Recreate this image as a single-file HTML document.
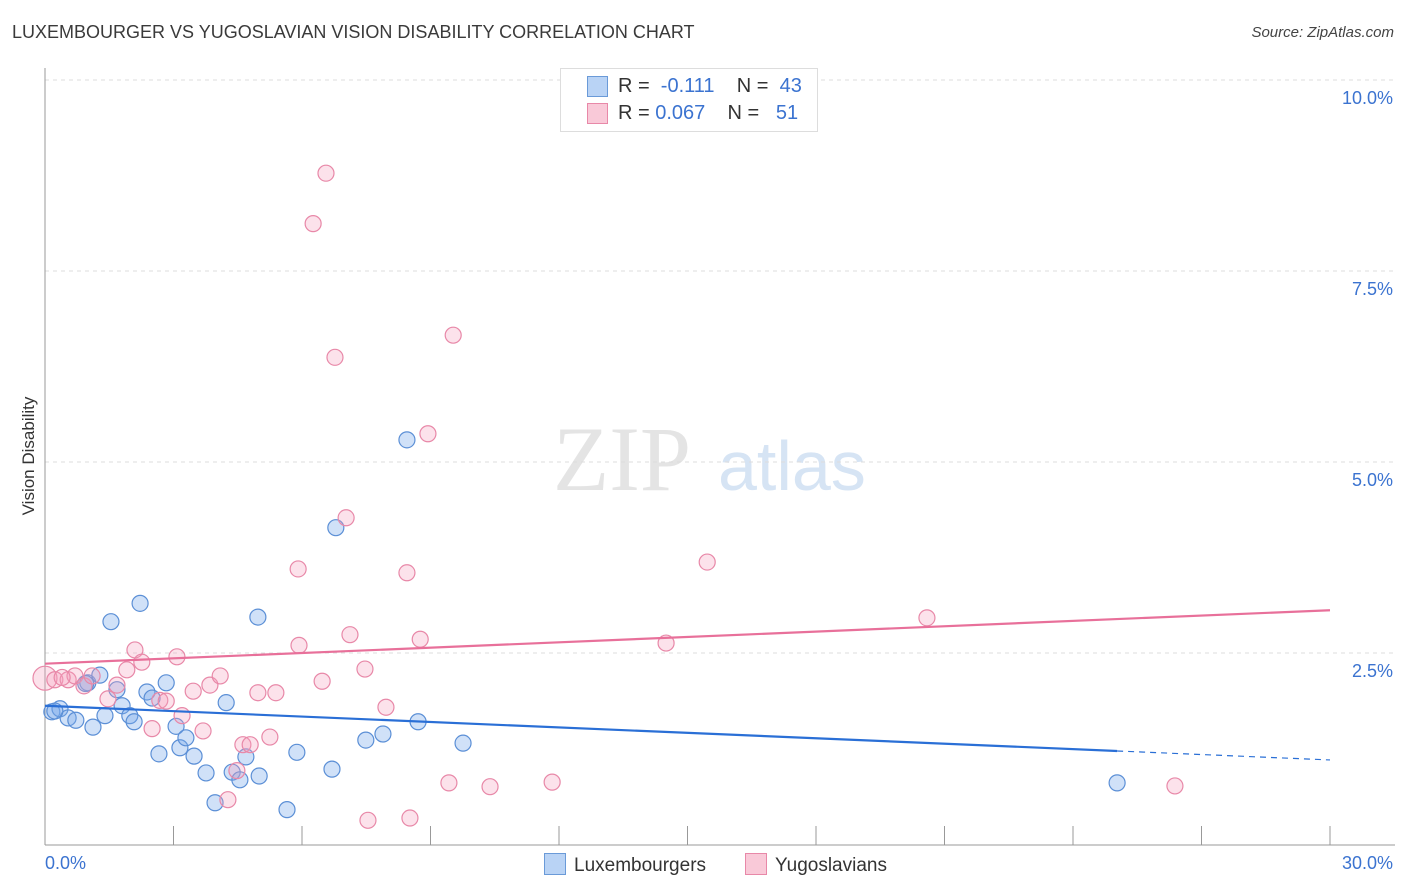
<!DOCTYPE html>
<html><head><meta charset="utf-8">
<style>
body{margin:0;background:#fff;font-family:"Liberation Sans",sans-serif;}
#wrap{position:relative;width:1406px;height:892px;overflow:hidden;}
.t{position:absolute;white-space:nowrap;}
</style></head>
<body>
<div id="wrap">
<div class="t" style="left:12px;top:22px;font-size:18px;color:#3a3a3a;">LUXEMBOURGER VS YUGOSLAVIAN VISION DISABILITY CORRELATION CHART</div>
<div class="t" style="right:12px;top:24px;font-size:15px;color:#444;font-style:italic;">Source: ZipAtlas.com</div>
<svg id="plot" width="1406" height="892" style="position:absolute;left:0;top:0"></svg>
</div>
<script>
const xTicksPct=[0,3,6,9,12,15,18,21,24,27,30];
const yTickVals=[2.5,5,7.5,10];
const yTickLabels=["2.5%","5.0%","7.5%","10.0%"];
const luxX=[0.16,0.35,0.54,0.72,1.12,1.00,1.28,1.54,1.40,1.68,1.80,1.98,2.08,2.22,2.38,2.50,2.66,2.83,3.06,3.15,3.29,3.48,3.76,3.97,4.23,4.37,4.55,4.69,5.00,4.97,5.65,5.88,6.70,6.79,7.49,7.89,8.45,8.71,9.76,25.03,0.23,0.95];
const luxY=[1.73,1.77,1.65,1.62,1.53,2.11,2.21,2.91,1.68,2.02,1.81,1.68,1.60,3.15,1.99,1.91,1.18,2.11,1.54,1.26,1.39,1.15,0.93,0.54,1.85,0.94,0.84,1.14,0.89,2.97,0.45,1.20,0.98,4.14,1.36,1.44,5.29,1.60,1.32,0.80,1.74,2.10];
const yugX=[0.0,0.23,0.54,0.70,0.91,1.10,1.47,1.68,1.91,2.10,2.26,2.50,2.68,2.83,3.08,3.20,3.46,3.69,3.85,4.09,4.27,4.48,4.62,4.79,4.97,5.25,5.39,5.93,5.91,6.26,6.47,6.56,6.77,7.03,7.12,7.47,7.54,7.96,8.45,8.52,8.76,8.94,9.43,9.53,10.39,11.84,14.50,15.46,20.59,26.38,0.4];
const yugY=[2.17,2.15,2.15,2.20,2.07,2.20,1.90,2.08,2.28,2.54,2.38,1.51,1.88,1.87,2.45,1.68,2.00,1.48,2.08,2.20,0.58,0.96,1.30,1.30,1.98,1.40,1.98,2.60,3.60,8.12,2.13,8.78,6.37,4.27,2.74,2.29,0.31,1.79,3.55,0.34,2.68,5.37,0.80,6.66,0.75,0.81,2.63,3.69,2.96,0.76,2.18];
const luxTrend=[1.81,1.10];
const yugTrend=[2.36,3.06];
const NS="http://www.w3.org/2000/svg";
const svg=document.getElementById('plot');
const X=v=>45+v*(1285/30);
const Y=v=>844-v*76.4;
function mk(tag,a,parent){const e=document.createElementNS(NS,tag);for(const k in a)e.setAttribute(k,a[k]);(parent||svg).appendChild(e);return e;}
let w=mk('text',{x:553,y:490,'font-size':92,fill:'#e4e4e4','font-family':'Liberation Serif'});w.textContent='ZIP';


let w2=mk('text',{x:718,y:490,'font-size':70,fill:'#d6e4f4','font-family':'Liberation Sans'});w2.textContent='atlas';


yTickVals.forEach((v,i)=>{
 let g=mk('line',{x1:45,x2:1395,y1:Y(v),y2:Y(v),stroke:'#dddddd','stroke-dasharray':'4,4'});
 
 
 let t=mk('text',{x:1393,y:Y(v)+24,'text-anchor':'end','font-size':18,fill:'#3b73d0'});t.textContent=yTickLabels[i];
 
 
});
let ax=mk('line',{x1:45,x2:45,y1:68,y2:845,stroke:'#999'});


let xa=mk('line',{x1:45,x2:1395,y1:845,y2:845,stroke:'#999'});


xTicksPct.forEach(v=>{let l=mk('line',{x1:X(v),x2:X(v),y1:826,y2:845,stroke:'#999'});
 
 });
let xl0=mk('text',{x:45,y:869,'font-size':18,fill:'#3b73d0'});xl0.textContent='0.0%';


let xl1=mk('text',{x:1393,y:869,'font-size':18,fill:'#3b73d0','text-anchor':'end'});xl1.textContent='30.0%';


let yt=mk('text',{x:34,y:456,'font-size':17,fill:'#333','text-anchor':'middle',transform:'rotate(-90 34 456)'});yt.textContent='Vision Disability';


luxX.forEach((v,i)=>{let c=mk('circle',{cx:X(v),cy:Y(luxY[i]),r:8,fill:'rgba(120,170,235,0.35)',stroke:'#5b8fd6','stroke-width':1.2});
 
 });
yugX.forEach((v,i)=>{let c=mk('circle',{cx:X(v),cy:Y(yugY[i]),r:i==0?12:8,fill:'rgba(245,160,190,0.3)',stroke:'#e888a8','stroke-width':1.2});
 
 });
const splitX=25.03;
const luxAt=v=>luxTrend[0]+(luxTrend[1]-luxTrend[0])*v/30;
let tl=mk('line',{x1:X(0),y1:Y(luxTrend[0]),x2:X(splitX),y2:Y(luxAt(splitX)),stroke:'#2a6fd6','stroke-width':2.2});


let td=mk('line',{x1:X(splitX),y1:Y(luxAt(splitX)),x2:X(30),y2:Y(luxTrend[1]),stroke:'#2a6fd6','stroke-width':1.2,'stroke-dasharray':'6,5'});


let tp=mk('line',{x1:X(0),y1:Y(yugTrend[0]),x2:X(30),y2:Y(yugTrend[1]),stroke:'#e8709a','stroke-width':2.2});


</script>
<div class="t" style="left:560px;top:68px;width:256px;height:62px;border:1px solid #ddd;background:#fff;font-size:20px;color:#333;">
 <div style="position:absolute;left:26px;top:7px;width:19px;height:19px;background:#b9d3f5;border:1px solid #6a9ad8;"></div>
 <div style="position:absolute;left:57px;top:6px;">R = &nbsp;<span style="color:#3b73d0">-0.111</span>&nbsp;&nbsp;&nbsp; N = &nbsp;<span style="color:#3b73d0">43</span></div>
 <div style="position:absolute;left:26px;top:34px;width:19px;height:19px;background:#f9c9d8;border:1px solid #e888a8;"></div>
 <div style="position:absolute;left:57px;top:33px;">R = <span style="color:#3b73d0">0.067</span>&nbsp;&nbsp;&nbsp; N = &nbsp;&nbsp;<span style="color:#3b73d0">51</span></div>
</div>
<div class="t" style="left:544px;top:853px;font-size:19px;color:#333;">
 <span style="display:inline-block;width:20px;height:20px;background:#b9d3f5;border:1px solid #6a9ad8;vertical-align:-4px;margin-right:8px;"></span>Luxembourgers</div>
<div class="t" style="left:745px;top:853px;font-size:19px;color:#333;">
 <span style="display:inline-block;width:20px;height:20px;background:#f9c9d8;border:1px solid #e888a8;vertical-align:-4px;margin-right:8px;"></span>Yugoslavians</div>
</body></html>
